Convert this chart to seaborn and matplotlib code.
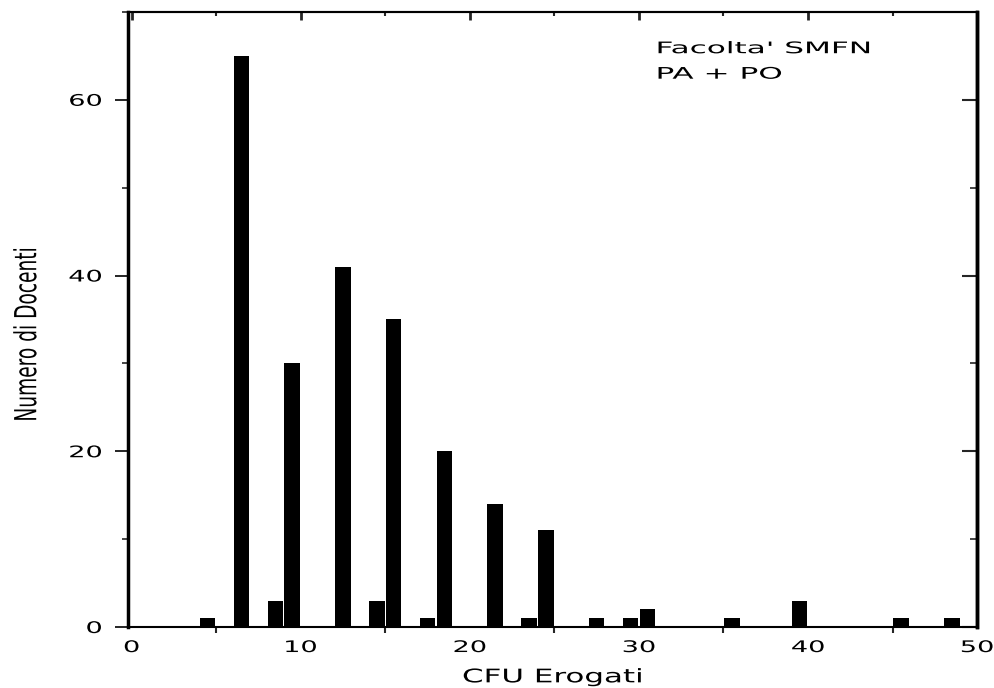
import matplotlib
matplotlib.use("Agg")
import matplotlib.pyplot as plt
import seaborn as sns
import pandas as pd
from matplotlib.ticker import MultipleLocator
from matplotlib.patheffects import AbstractPathEffect
from matplotlib.transforms import Affine2D

# Bin left edges (CFU) and counts (Numero di Docenti)
cfu_bin_left = [4, 6, 8, 9, 12, 14, 15, 17, 18, 21, 23, 24, 27, 29, 30, 35, 39, 45, 48]
n_docenti = [1, 65, 3, 30, 41, 3, 35, 1, 20, 14, 1, 11, 1, 1, 2, 1, 3, 1, 1]
x_ticks = [0, 10, 20, 30, 40, 50]
y_ticks = [0, 20, 40, 60]
annot_lines = ["Facolta' SMFN", "PA + PO"]


class Stretch(AbstractPathEffect):
    """Draw text with its glyphs stretched (the reference uses an extended face)."""
    def __init__(self, sx=1.0, sy=1.0, anchor="center"):
        super().__init__()
        self.sx, self.sy, self.anchor = sx, sy, anchor

    def draw_path(self, renderer, gc, tpath, affine, rgbFace=None):
        ext = tpath.get_extents()
        if self.anchor == "left":
            x0 = ext.x0
        elif self.anchor == "right":
            x0 = ext.x1
        else:
            x0 = 0.5 * (ext.x0 + ext.x1)
        t = Affine2D().translate(-x0, 0).scale(self.sx, self.sy).translate(x0, 0) + affine
        renderer.draw_path(gc, tpath, t, rgbFace)


sns.set_theme(style="white")
plt.rcParams['font.family'] = ['DejaVu Sans']

df = pd.DataFrame({"cfu": [v + 0.5 for v in cfu_bin_left], "n": n_docenti})

fig = plt.figure(figsize=(9.94, 6.88), dpi=100)
ax = fig.add_axes([0.129, 0.0887, 0.854, 0.894])

sns.histplot(data=df, x="cfu", weights="n", binwidth=1, binrange=(0, 50),
             shrink=0.92, color="black", alpha=1, linewidth=0, ax=ax)

ax.set_xlim(-0.2, 50)
ax.set_ylim(0, 70)
ax.set_xticks(x_ticks)
ax.set_yticks(y_ticks)
ax.xaxis.set_minor_locator(MultipleLocator(5))
ax.yaxis.set_minor_locator(MultipleLocator(10))

# left axis: outward ticks
ax.tick_params(axis="y", which="major", direction="out", length=9.5, width=1.2,
               labelsize=11.5, colors="black", pad=9.4, left=True)
ax.tick_params(axis="y", which="minor", direction="out", length=4.5, width=1.2, left=True)
# bottom: only small outward ticks at minor positions
ax.tick_params(axis="x", which="major", direction="out", length=0, width=1.2,
               labelsize=11.5, colors="black", pad=9.4, bottom=True)
ax.tick_params(axis="x", which="minor", direction="out", length=4, width=1.5, bottom=True)

# mirrored inward ticks on top and right
sec_x = ax.secondary_xaxis("top")
sec_x.set_xticks(x_ticks)
sec_x.xaxis.set_minor_locator(MultipleLocator(5))
sec_x.tick_params(which="major", direction="in", length=6, width=2, labeltop=False)
sec_x.tick_params(which="minor", direction="in", length=3, width=1.5)
sec_x.spines["top"].set_linewidth(1.5)
sec_x.spines["top"].set_color("black")

sec_y = ax.secondary_yaxis("right")
sec_y.set_yticks(y_ticks)
sec_y.yaxis.set_minor_locator(MultipleLocator(10))
sec_y.tick_params(which="major", direction="in", length=11, width=1.5, labelright=False)
sec_y.tick_params(which="minor", direction="in", length=5, width=1.2)
sec_y.spines["right"].set_linewidth(2.5)
sec_y.spines["right"].set_color("black")

for side in ["top", "bottom"]:
    ax.spines[side].set_color("black")
    ax.spines[side].set_linewidth(1.5)
for side in ["left", "right"]:
    ax.spines[side].set_color("black")
    ax.spines[side].set_linewidth(2.5)

for tk in ax.xaxis.get_major_ticks():
    tk.label1.set_path_effects([Stretch(1.7, 1.0, "center")])
for tk in ax.yaxis.get_major_ticks():
    tk.label1.set_path_effects([Stretch(1.7, 1.0, "right")])

ax.set_xlabel("CFU Erogati", fontsize=13.5, color="black", va="baseline",
              path_effects=[Stretch(1.65, 1.0, "center")])
ax.xaxis.set_label_coords(0.5, -0.09)

ax.set_ylabel("Numero di Docenti", fontsize=13.4, color="black",
              path_effects=[Stretch(1.0, 1.63, "center")])
ax.yaxis.set_label_coords(-0.1037, 0.476)

ax.text(31.07, 65.3, annot_lines[0], fontsize=11.5, va="baseline", ha="left",
        color="black", path_effects=[Stretch(1.95, 1.0, "left")])
ax.text(31.07, 62.4, annot_lines[1], fontsize=11.5, va="baseline", ha="left",
        color="black", path_effects=[Stretch(1.95, 1.0, "left")])

fig.savefig("out.png", dpi=100, facecolor="white")
